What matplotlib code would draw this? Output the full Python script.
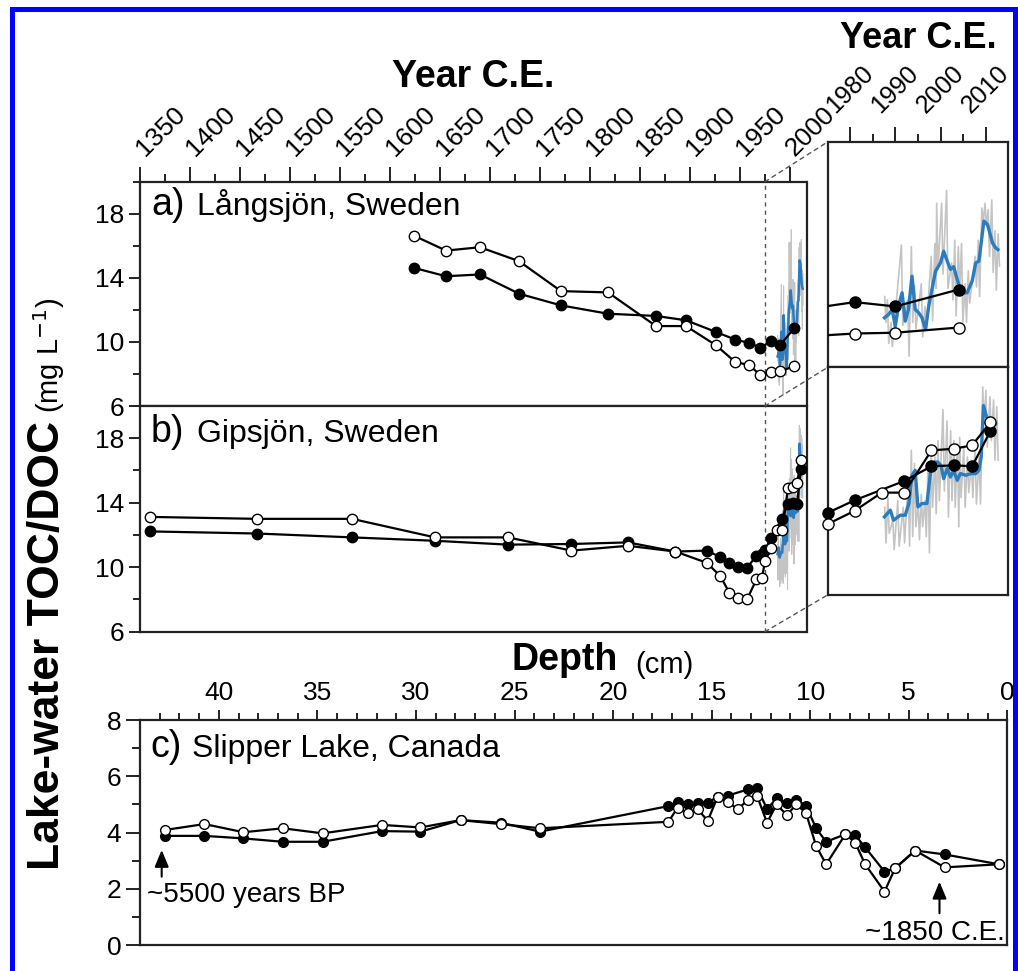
import numpy as np
import matplotlib
matplotlib.use("Agg")
import matplotlib.pyplot as plt
from matplotlib.patches import Rectangle, ConnectionPatch

plt.rcParams['font.family'] = ['Liberation Sans', 'DejaVu Sans']

# ---- panel a: Langsjon (year C.E., mg/L)
a_year = [1624, 1656, 1690, 1729, 1771, 1818, 1866, 1896, 1926, 1945, 1959, 1970.5, 1981, 1990, 2004]
a_open = [16.63, 15.70, 15.91, 15.04, 13.17, 13.09, 10.99, 10.99, 9.79, 8.76, 8.55, 7.93, 8.11, 8.16, 8.48]
a_filled = [14.62, 14.10, 14.21, 13.01, 12.28, 11.76, 11.62, 11.35, 10.62, 10.15, 9.94, 9.63, 10.06, 9.79, 10.84]

# ---- panel b: Gipsjon
b_year_open = [1360.5, 1467, 1562, 1645, 1718, 1781.5, 1838, 1885.5, 1917, 1930.5, 1939.5, 1948, 1957,
               1966.5, 1972, 1975, 1981, 1987, 1992, 1998, 2003, 2007, 2011]
b_open = [13.12, 13.0, 13.0, 11.85, 11.85, 11.03, 11.33, 10.97, 10.27, 9.43, 8.40, 8.06, 8.0,
          9.25, 9.35, 10.36, 11.18, 12.30, 12.30, 14.90, 15.0, 15.21, 16.62]
b_year_filled = [1360.5, 1467, 1562, 1645, 1718, 1781.5, 1838, 1885.5, 1917, 1930.5, 1939.5, 1948, 1957,
                 1966.5, 1972, 1975, 1981, 1992, 1998, 2003, 2007, 2011]
b_filled = [12.22, 12.09, 11.85, 11.64, 11.40, 11.44, 11.54, 10.97, 11.03, 10.62, 10.25, 10.0, 9.96,
            10.72, 10.82, 11.05, 11.83, 13.02, 13.92, 13.98, 13.92, 16.07]

# ---- monitoring data (gray = raw spikes, blue = smoothed)
gray_a_year = [1987.8, 1988.4, 1989.2, 1991.5, 1992.9, 1993.7, 1994.4, 1995.9, 1996.7, 1998.1, 1998.9, 1999.3,
               2000.4, 2001.5, 2002.6, 2003.3, 2004.1, 2004.8, 2005.6, 2006.3, 2007.8, 2008.5, 2009.3, 2010.0,
               2010.7, 2011.5, 2012.2, 2012.9]
gray_a_hi = [10.4, 10.2, 8.8, 13.6, 10.2, 13.5, 11.1, 11.2, 9.8, 12.9, 13.7, 16.2, 16.2, 17.0, 12.5, 13.9,
             13.5, 13.7, 11.2, 12.0, 12.9, 13.9, 15.9, 16.2, 15.8, 16.4, 14.5, 14.3]
gray_a_lo = [8.8, 7.5, 7.3, 8.6, 6.7, 8.8, 8.4, 7.9, 8.4, 8.9, 10.9, 12.1, 11.8, 10.9, 10.2, 9.2, 10.8, 8.8,
             8.8, 10.0, 11.0, 10.4, 15.0, 14.8, 12.9, 11.9, 10.8, 12.3]
blue_a_year = [1987.6, 1988.5, 1989.3, 1990.0, 1990.7, 1991.5, 1992.2, 1992.9, 1993.7, 1994.4, 1995.2, 1995.9,
               1996.7, 1997.4, 1998.1, 1998.9, 2000.0, 2000.7, 2001.5, 2002.2, 2002.9, 2003.7, 2004.4, 2005.2,
               2005.9, 2007.0, 2007.8, 2008.5, 2009.6, 2010.4, 2011.5, 2012.2, 2012.7]
blue_a = [9.09, 9.29, 9.60, 8.57, 9.81, 10.64, 8.88, 9.60, 11.67, 9.60, 9.39, 9.09, 8.36, 9.81, 10.84, 11.98,
          12.50, 13.22, 12.60, 12.09, 12.26, 11.47, 10.84, 10.64, 10.64, 11.36, 12.50, 12.60, 15.09, 14.88,
          13.74, 13.43, 13.32]

gray_b_year = [1987.8, 1988.5, 1989.6, 1990.7, 1991.9, 1993.0, 1993.7, 1994.4, 1995.2, 1995.9, 1996.7, 1997.4,
               1998.1, 1998.9, 1999.6, 2000.7, 2001.6, 2002.4, 2003.1, 2003.9, 2004.4, 2005.3, 2006.1, 2007.0,
               2007.8, 2008.7, 2009.5, 2010.2, 2011.1, 2011.9, 2012.6]
gray_b_hi = [11.4, 12.0, 10.6, 11.8, 11.4, 13.1, 14.9, 14.1, 11.6, 12.2, 11.8, 14.1, 14.7, 14.5, 15.5, 17.4,
             16.7, 16.1, 15.5, 15.3, 15.7, 15.1, 14.5, 14.1, 15.1, 14.5, 18.8, 18.6, 18.2, 18.0, 17.6]
gray_b_lo = [9.2, 9.8, 8.8, 9.0, 9.2, 9.0, 9.6, 10.2, 9.4, 10.2, 9.6, 8.6, 11.4, 11.0, 11.8, 12.4, 10.8, 11.8,
             11.4, 10.2, 12.0, 11.4, 12.3, 12.0, 11.6, 11.6, 16.5, 15.1, 15.5, 14.3, 14.3]
blue_b_year = [1987.6, 1988.9, 1989.6, 1991.1, 1992.2, 1993.0, 1993.7, 1994.4, 1995.0, 1995.9, 1997.0, 1997.8,
               1998.5, 1999.4, 2000.1, 2000.7, 2001.5, 2002.2, 2002.9, 2003.7, 2004.4, 2005.6, 2006.7, 2007.8,
               2008.5, 2009.0, 2009.5, 2010.2, 2011.1, 2012.2]
blue_b = [10.81, 11.22, 10.60, 10.91, 10.91, 11.63, 13.37, 13.67, 11.42, 11.63, 11.63, 13.57, 14.18, 14.18,
          13.98, 13.16, 13.78, 13.26, 13.67, 13.06, 13.47, 13.37, 13.47, 13.47, 13.67, 14.49, 17.66, 16.95,
          16.64, 16.54]

# ---- panel c: Slipper Lake (depth cm)
c_depth_open = [42.73, 40.73, 38.75, 36.75, 34.74, 31.72, 29.77, 27.74, 25.71, 23.71, 17.19, 16.73, 16.22,
                15.71, 15.20, 14.70, 14.19, 13.68, 13.17, 12.70, 12.19, 11.70, 11.19, 10.70, 10.21, 9.70, 9.19,
                8.21, 7.72, 7.21, 6.23, 5.69, 4.67, 3.18, 0.42]
c_open = [4.09, 4.30, 4.01, 4.15, 3.97, 4.27, 4.18, 4.44, 4.30, 4.15, 4.38, 4.88, 4.71, 4.84, 4.41, 5.27, 5.09,
          4.83, 5.15, 5.31, 4.35, 5.00, 4.62, 5.00, 4.69, 3.52, 2.87, 3.94, 3.64, 2.87, 1.90, 2.73, 3.36, 2.76,
          2.87]
c_depth_filled = [42.73, 40.73, 38.75, 36.75, 34.74, 31.72, 29.77, 27.74, 25.71, 23.71, 17.19, 16.73, 16.22,
                  15.71, 15.20, 14.70, 14.19, 13.17, 12.70, 12.19, 11.70, 11.19, 10.70, 10.21, 9.70, 9.19, 8.21,
                  7.72, 7.21, 6.23, 5.69, 4.67, 3.18, 0.42]
c_filled = [3.88, 3.88, 3.79, 3.67, 3.67, 4.05, 4.03, 4.44, 4.35, 4.03, 4.94, 5.09, 5.00, 5.04, 5.06, 5.27,
            5.31, 5.53, 5.59, 4.84, 5.21, 5.06, 5.17, 4.95, 4.15, 3.67, 3.94, 3.91, 3.47, 2.61, 2.73, 3.36, 3.22,
            2.87]

year_ticks = list(range(1350, 2001, 50))
inset_ticks = [1980, 1990, 2000, 2010]
depth_ticks = [40, 35, 30, 25, 20, 15, 10, 5, 0]
split_year = 1975

W, H = 1018, 971
BLUE = '#2b7bbf'
GRAY = '#c4c4c4'
TICK_FS = 19


def fx(px):
    return px / W


def fy(py):
    return 1 - py / H


def box(l, t, r, b):
    return [fx(l), fy(b), (r - l) / W, (b - t) / H]


def zigzag(years, hi, lo):
    xs, ys = [], []
    for yr, h, l in zip(years, hi, lo):
        xs += [yr - 0.15, yr + 0.15]
        ys += [h, l]
    return xs, ys


def style(ax):
    for s in ax.spines.values():
        s.set_linewidth(1.6)
        s.set_color('#222222')
    ax.tick_params(which='both', direction='out', width=1.4, color='#222222', labelsize=TICK_FS)


def series(ax, x, y, filled, ms=7.5, clip_edge=False):
    fc = 'black' if filled else 'white'
    ax.plot(x, y, '-', color='black', lw=1.6, zorder=4)
    if clip_edge:
        lo, hi = ax.get_xlim()
        pts = [(a, b) for a, b in zip(x, y) if lo <= a <= hi]
        ax.plot([p[0] for p in pts], [p[1] for p in pts], 'o', ms=ms, mfc=fc, mec='black', mew=1.0,
                zorder=5 if not filled else 4.5, clip_on=False)
    else:
        ax.plot(x, y, 'o', ms=ms, mfc=fc, mec='black', mew=1.0, zorder=5 if not filled else 4.5)


def monitor(ax, gy, ghi, glo, by, bv, lw, glw):
    gx, gv = zigzag(gy, ghi, glo)
    ax.plot(gx, gv, color=GRAY, lw=glw, zorder=2)
    ax.plot(by, bv, color=BLUE, lw=lw, zorder=3)


fig = plt.figure(figsize=(W / 100, H / 100), dpi=100)

ax_a = fig.add_axes(box(140, 181.7, 806.5, 406))
ax_b = fig.add_axes(box(140, 406, 806.5, 631.7))
ax_ia = fig.add_axes(box(827.5, 142, 1008.3, 367.5))
ax_ib = fig.add_axes(box(827.5, 367.5, 1008.3, 595))
ax_c = fig.add_axes(box(140, 720, 1007.3, 945))

for ax in (ax_a, ax_b):
    ax.set_xlim(1350, 2016.5)
    ax.set_ylim(6, 20)
    ax.set_yticks([6, 10, 14, 18])
    ax.set_yticks([8, 12, 16, 20], minor=True)
    style(ax)
    ax.tick_params(axis='y', which='major', length=8)
    ax.tick_params(axis='y', which='minor', length=5)
    ax.axvline(split_year, color='#555555', lw=1.0, ls=(0, (3, 3)), zorder=1)

ax_a.xaxis.set_ticks_position('top')
ax_a.set_xticks(year_ticks)
ax_a.set_xticks(np.arange(1375, 2016, 50), minor=True)
ax_a.set_xticklabels([str(y) for y in year_ticks], rotation=45, ha='left', va='center',
                     rotation_mode='anchor')
ax_a.tick_params(axis='x', which='major', length=11, pad=10)
ax_a.tick_params(axis='x', which='minor', length=6)
ax_b.set_xticks([])
ax_b.tick_params(axis='x', which='both', bottom=False, top=False)

for ax in (ax_ia, ax_ib):
    ax.set_xlim(1975, 2015)
    ax.set_ylim(6, 20)
    style(ax)
    ax.set_yticks([])
    ax.tick_params(axis='y', which='both', left=False, labelleft=False)

ax_ia.xaxis.set_ticks_position('top')
ax_ia.set_xticks(inset_ticks)
ax_ia.set_xticks([1985, 1995, 2005], minor=True)
ax_ia.set_xticklabels([str(y) for y in inset_ticks], rotation=45, ha='center', va='center',
                      rotation_mode='anchor')
ax_ia.tick_params(axis='x', which='major', length=11, pad=27, labelsize=18)
ax_ia.tick_params(axis='x', which='minor', length=6)
ax_ib.set_xticks([])

# monitoring lines
monitor(ax_a, gray_a_year, gray_a_hi, gray_a_lo, blue_a_year, blue_a, 1.8, 0.8)
monitor(ax_ia, gray_a_year, gray_a_hi, gray_a_lo, blue_a_year, blue_a, 2.4, 1.2)
monitor(ax_b, gray_b_year, gray_b_hi, gray_b_lo, blue_b_year, blue_b, 1.8, 0.8)
monitor(ax_ib, gray_b_year, gray_b_hi, gray_b_lo, blue_b_year, blue_b, 2.4, 1.2)

# sediment inferred series
series(ax_a, a_year, a_filled, True)
series(ax_a, a_year, a_open, False)
series(ax_ia, a_year, a_filled, True, ms=8, clip_edge=True)
series(ax_ia, a_year, a_open, False, ms=8, clip_edge=True)
series(ax_b, b_year_filled, b_filled, True)
series(ax_b, b_year_open, b_open, False)
series(ax_ib, b_year_filled, b_filled, True, ms=8, clip_edge=True)
series(ax_ib, b_year_open, b_open, False, ms=8, clip_edge=True)

# zoom connectors
for axm, axi, yv in ((ax_a, ax_ia, 20), (ax_a, ax_ia, 6), (ax_b, ax_ib, 6)):
    con = ConnectionPatch(xyA=(split_year, yv), coordsA=axm.transData,
                          xyB=(1975, yv), coordsB=axi.transData,
                          color='#555555', lw=1.0, ls=(0, (3, 3)))
    fig.add_artist(con)

# panel c
ax_c.set_xlim(44, 0)
ax_c.set_ylim(0, 8)
style(ax_c)
ax_c.xaxis.set_ticks_position('top')
ax_c.set_xticks(depth_ticks)
ax_c.set_xticks(np.arange(1, 44), minor=True)
ax_c.set_xticklabels([str(d) for d in depth_ticks])
ax_c.set_yticks([0, 2, 4, 6, 8])
ax_c.set_yticks([1, 3, 5, 7], minor=True)
ax_c.tick_params(axis='x', which='major', length=7, pad=4)
ax_c.tick_params(axis='x', which='minor', length=5)
ax_c.tick_params(axis='y', which='major', length=10)
ax_c.tick_params(axis='y', which='minor', length=6)
series(ax_c, c_depth_filled, c_filled, True, ms=7)
series(ax_c, c_depth_open, c_open, False, ms=7)

arrow_kw = dict(arrowstyle='-|>,head_length=0.6,head_width=0.25', color='black', lw=1.5,
                mutation_scale=17, shrinkA=0, shrinkB=0)
ax_c.annotate('', xy=(42.9, 3.38), xytext=(42.9, 2.43), arrowprops=arrow_kw)
ax_c.text(43.66, 1.54, '~5500 years BP', fontsize=20, va='baseline', ha='left')
ax_c.annotate('', xy=(3.44, 2.25), xytext=(3.44, 1.13), arrowprops=arrow_kw)
ax_c.text(0.15, 0.18, '~1850 C.E.', fontsize=20, va='baseline', ha='right')

# panel labels
for tag, name, x0, x1, yb in (('a)', 'Långsjön, Sweden', 151, 197, 215),
                              ('b)', 'Gipsjön, Sweden', 151, 197, 441.7),
                              ('c)', 'Slipper Lake, Canada', 150, 192, 756.7)):
    fig.text(fx(x0), fy(yb), tag, fontsize=27, va='baseline', ha='left')
    fig.text(fx(x1), fy(yb), name, fontsize=23, va='baseline', ha='left')

# axis titles
fig.text(fx(473), fy(87), 'Year C.E.', fontsize=27, fontweight='bold', ha='center', va='baseline')
fig.text(fx(918), fy(48), 'Year C.E.', fontsize=26, fontweight='bold', ha='center', va='baseline')
fig.text(fx(512), fy(670), 'Depth', fontsize=27, fontweight='bold', ha='left', va='baseline')
fig.text(fx(635), fy(673), '(cm)', fontsize=21, ha='left', va='baseline')
fig.text(fx(59), fy(870), 'Lake-water TOC/DOC', fontsize=32, fontweight='bold', rotation=90,
         rotation_mode='anchor', ha='left', va='baseline')
fig.text(fx(59), fy(413), '(mg L$^{-1}$)', fontsize=21, rotation=90,
         rotation_mode='anchor', ha='left', va='baseline')

# blue frame
fig.add_artist(Rectangle((fx(11.5), fy(990)), (1015 - 11.5) / W, (990 - 9.2) / H,
                         transform=fig.transFigure, fill=False, edgecolor='#0000ff', lw=3.6,
                         clip_on=False))

fig.savefig('out.png', dpi=100)
